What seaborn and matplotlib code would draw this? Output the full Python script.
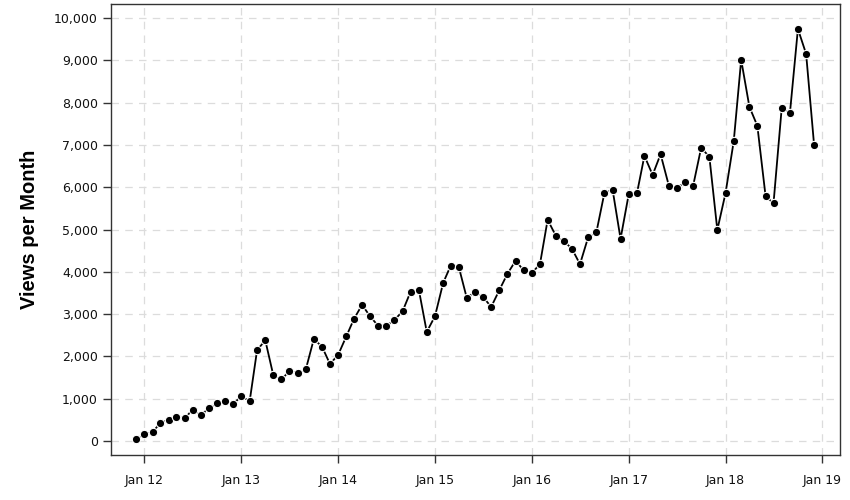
import pandas as pd
import seaborn as sns
import matplotlib.dates as mdates
from matplotlib import pyplot as plt
from matplotlib.ticker import FuncFormatter

sns.set_theme(style="white")
plt.rcParams['font.family'] = ['DejaVu Sans']

# monthly views, Dec 2011 .. Dec 2018
months = pd.date_range('2011-12-01', '2018-12-01', freq='MS')
views = [
    50, 160, 210, 430, 500, 570, 540, 740, 620, 770, 900, 950, 880,
    1060, 940, 2150, 2380, 1560, 1460, 1650, 1610, 1700, 2410, 2230, 1820,
    2040, 2480, 2880, 3220, 2950, 2720, 2720, 2860, 3070, 3530, 3580, 2580,
    2950, 3740, 4140, 4110, 3380, 3530, 3410, 3170, 3570, 3950, 4260, 4040,
    3970, 4180, 5230, 4850, 4730, 4540, 4180, 4820, 4940, 5860, 5940, 4780,
    5840, 5860, 6740, 6290, 6780, 6040, 5970, 6120, 6040, 6930, 6720, 4990,
    5860, 7090, 9010, 7900, 7450, 5790, 5620, 7880, 7760, 9740, 9150, 7000,
]
df = pd.DataFrame({'month': months, 'views': views})

fig = plt.figure(figsize=(8.5, 5), dpi=100)
ax = fig.add_axes([0.1306, 0.09, 0.8574, 0.902])

sns.lineplot(data=df, x='month', y='views', ax=ax, color='black', linewidth=1.3,
             marker='o', markersize=6, markerfacecolor='black',
             markeredgecolor='white', markeredgewidth=0.8)

ax.set_xlim(pd.Timestamp('2011-08-28'), pd.Timestamp('2019-03-08'))
ax.set_ylim(-330, 10330)
ax.set_yticks(range(0, 10001, 1000))
ax.yaxis.set_major_formatter(FuncFormatter(lambda v, p: f'{int(v):,}'))
ax.xaxis.set_major_locator(mdates.YearLocator())
ax.xaxis.set_major_formatter(mdates.DateFormatter('%b %y'))

ax.grid(True, color='#dcdcdc', linestyle=(0, (6, 5)), linewidth=0.9)
for s in ax.spines.values():
    s.set_color('#333333')
    s.set_linewidth(1)
ax.tick_params(axis='both', which='major', direction='out', length=6, width=1,
               color='#333333', labelsize=9, labelcolor='#111111', bottom=True, left=True)
ax.tick_params(axis='x', pad=8)

ax.set_xlabel('')
ax.set_ylabel('Views per Month', fontsize=14.5, fontweight='bold', color='black',
              family=['Liberation Sans', 'DejaVu Sans'], labelpad=11)

plt.savefig('out.png', dpi=100)
plt.close()
